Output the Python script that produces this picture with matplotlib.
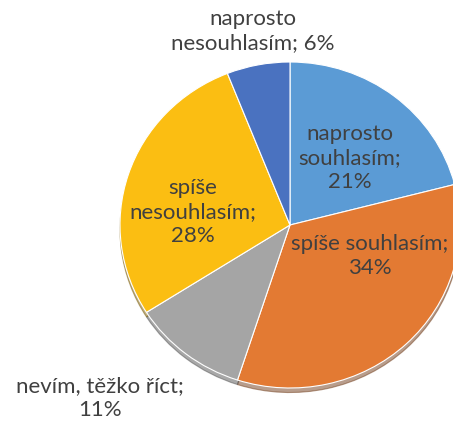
import matplotlib
matplotlib.use('Agg')
import matplotlib.pyplot as plt

labels = ['naprosto\nsouhlasím;\n21%', 'spíše souhlasím;\n34%', 'nevím, těžko říct;\n11%',
          'spíše\nnesouhlasím;\n28%', 'naprosto\nnesouhlasím; 6%']
values = [21, 34, 11, 28, 6]
colors = ['#5B9BD5', '#E37A33', '#A5A5A5', '#FBBE12', '#4A72C0']
# label anchor positions in pie units (x, y)
label_pos = [(0.35, 0.41), (0.47, -0.19), (-1.12, -1.06), (-0.57, 0.08), (-0.22, 1.19)]

plt.rcParams['font.family'] = ['Lato', 'DejaVu Sans']

fig = plt.figure(figsize=(4.53, 4.21), dpi=100)
ax = fig.add_axes([120 / 453, 1 - 388 / 421, 340 / 453, 326 / 421])

wedges, _ = ax.pie(values, colors=colors, startangle=90, counterclock=False,
                   radius=1, wedgeprops={'edgecolor': 'white', 'linewidth': 0.8},
                   shadow={'ox': 0.0, 'oy': -0.02, 'shade': 0.5})
for w in wedges:
    w.set_clip_on(False)

for lab, (x, y) in zip(labels, label_pos):
    ax.text(x, y, lab, ha='center', va='center', fontsize=16, color='#404040',
            linespacing=1.25, clip_on=False)

ax.set_aspect('auto')
ax.set_xlim(-1, 1)
ax.set_ylim(-1, 1)
ax.axis('off')

plt.savefig('out.png', dpi=100)
